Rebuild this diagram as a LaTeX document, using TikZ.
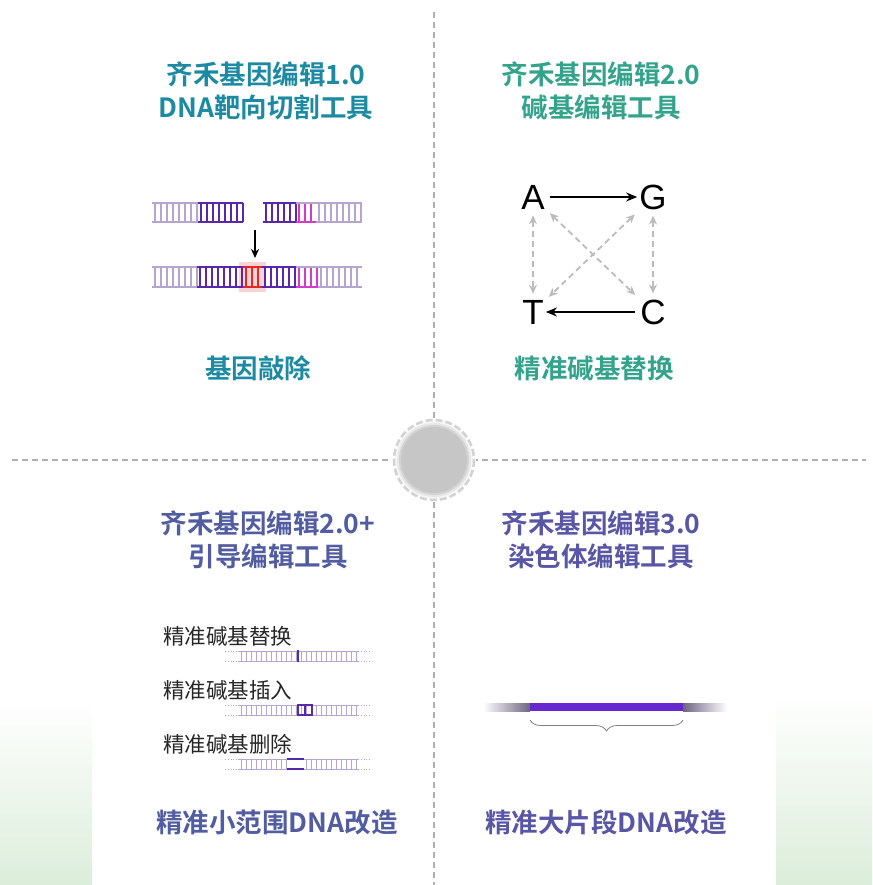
\documentclass[tikz,border=0pt]{standalone}
\usepackage{fontspec}
\setmainfont{Noto Sans CJK SC}[BoldFont={Noto Sans CJK SC Bold}]
\newfontfamily\latinsans{Liberation Sans}
\usepackage{tikz}
\usetikzlibrary{arrows.meta,positioning,calc,decorations.pathreplacing}

\definecolor{cutBlue}{RGB}{28,138,162}
\definecolor{baseGreen}{RGB}{52,163,140}
\definecolor{primeBlue}{RGB}{82,92,160}
\definecolor{chromPurple}{RGB}{88,86,165}
\definecolor{strandLight}{RGB}{180,166,206}
\definecolor{strandDark}{RGB}{88,40,172}
\definecolor{strandMagenta}{RGB}{212,60,200}
\definecolor{strandRed}{RGB}{228,40,40}
\definecolor{barPurple}{RGB}{104,40,208}
\definecolor{fadePurple}{RGB}{110,100,130}
\definecolor{gridGray}{RGB}{176,176,176}
\definecolor{hubGray}{RGB}{198,198,198}
\definecolor{mintGreen}{RGB}{220,237,218}

% one stretch of double strand: rails plus rungs
\newcommand{\dnaseg}[6]{%
  \draw[#5, line width=2pt] (#1,#3) -- (#2,#3) (#1,#4) -- (#2,#4);
  \pgfmathsetmacro\rfirst{#1+3}\pgfmathsetmacro\rsecond{#1+3+#6}
  \foreach \x in {\rfirst,\rsecond,...,#2} \draw[#5, line width=1.4pt] (\x,#3) -- (\x,#4);
}
% thin strand used for the prime editing rows
\newcommand{\primerow}[1]{%
  \draw[strandLight, line width=0.8pt, dotted] (225,#1) -- (238,#1) (225,#1+10) -- (238,#1+10)
    (358,#1) -- (372,#1) (358,#1+10) -- (372,#1+10);
  \draw[strandLight, line width=1pt] (238,#1) -- (358,#1) (238,#1+10) -- (358,#1+10);
}

\begin{document}
\begin{tikzpicture}[x=1pt, y=-1pt,
  title/.style={font=\fontsize{26.5}{33}\selectfont\bfseries, align=center},
  result/.style={font=\fontsize{26.5}{30}\selectfont\bfseries},
  small/.style={font=\fontsize{21.5}{24}\selectfont, text=black!85, anchor=west, inner sep=0pt},
  base/.style={font=\fontsize{35}{40}\selectfont\latinsans, inner sep=2pt},
  swap/.style={gridGray!85, line width=1.8pt, dash pattern=on 6pt off 4pt,
    {Stealth[length=9pt,width=8pt]}-{Stealth[length=9pt,width=8pt]}, shorten <=4pt, shorten >=4pt}]
  \useasboundingbox (0,0) rectangle (872,885);

  % green corners at the bottom
  \shade[top color=white, bottom color=mintGreen] (0,700) rectangle (92,885);
  \shade[top color=white, bottom color=mintGreen] (776,695) rectangle (872,885);

  % cross of dashed lines
  \draw[gridGray, line width=1.5pt, dash pattern=on 6pt off 4pt] (434,12) -- (434,885);
  \draw[gridGray, line width=1.5pt, dash pattern=on 6pt off 4pt] (12,460) -- (866,460);

  % hub in the middle
  \fill[white] (434,460) circle (42);
  \foreach \r/\o in {39/0.15,37/0.3,35/0.6} \fill[hubGray, opacity=\o] (434,460) circle (\r);
  \fill[hubGray] (434,460) circle (33);
  \draw[gray!35, line width=2.5pt, dash pattern=on 7pt off 3pt] (434,460) circle (40);

  % ---- 1.0: DNA cutting
  \node[title, text=cutBlue] (t1) at (266,91) {齐禾基因编辑1.0\\DNA靶向切割工具};
  \dnaseg{152}{198}{203}{222}{strandLight}{6}
  \dnaseg{198}{243}{203}{222}{strandDark}{6}
  \dnaseg{263}{296}{203}{222}{strandDark}{6}
  \dnaseg{296}{316}{203}{222}{strandMagenta}{6}
  \draw[strandLight, line width=2pt] (296,203) -- (316,203);
  \dnaseg{316}{362}{203}{222}{strandLight}{6}
  \coordinate (cutTop) at (255,230);
  \coordinate (cutBot) at (255,258);
  \draw[-{Stealth[length=9pt,width=8pt]}, line width=1.8pt] (cutTop) -- (cutBot);
  \fill[strandRed!20] (239,262) rectangle (266,292);
  \dnaseg{152}{197}{267}{287}{strandLight}{6}
  \dnaseg{197}{243}{267}{287}{strandDark}{6}
  \dnaseg{243}{262}{267}{287}{strandRed}{6}
  \dnaseg{262}{296}{267}{287}{strandDark}{6}
  \dnaseg{296}{318}{267}{287}{strandMagenta}{6}
  \draw[strandLight, line width=2pt] (296,267) -- (318,267);
  \dnaseg{318}{362}{267}{287}{strandLight}{6}
  \node[result, text=cutBlue] (r1) at (258,368) {基因敲除};

  % ---- 2.0: base editing
  \node[title, text=baseGreen] (t2) at (601,91) {齐禾基因编辑2.0\\碱基编辑工具};
  \node[base] (A) at (533,197) {A};
  \node[base] (G) at (653,197) {G};
  \node[base] (T) at (533,312) {T};
  \node[base] (C) at (653,312) {C};
  \draw[-{Stealth[length=11pt,width=9pt]}, line width=1.8pt, shorten <=3pt] (A) -- (G);
  \draw[-{Stealth[length=11pt,width=9pt]}, line width=1.8pt, shorten <=3pt] (C) -- (T);
  \draw[swap] (A) -- (T);
  \draw[swap] (G) -- (C);
  \draw[swap] (A) -- (C);
  \draw[swap] (G) -- (T);
  \node[result, text=baseGreen] (r2) at (594,368) {精准碱基替换};

  % ---- 2.0+: prime editing
  \node[title, text=primeBlue] (t3) at (268,540) {齐禾基因编辑2.0+\\引导编辑工具};
  \node[small] (sub) at (163,636) {精准碱基替换};
  \primerow{651}
  \foreach \x in {241,246,...,356} \draw[strandLight, line width=0.9pt] (\x,651) -- (\x,661);
  \draw[strandDark, line width=2pt] (298,650) -- (298,662);
  \node[small] (ins) at (163,690) {精准碱基插入};
  \primerow{705}
  \foreach \x in {241,246,...,356} \draw[strandLight, line width=0.9pt] (\x,705) -- (\x,715);
  \draw[strandDark, line width=1.4pt] (297,705) -- (313,705) (297,715) -- (313,715);
  \foreach \x in {298,305,312} \draw[strandDark, line width=1.4pt] (\x,705) -- (\x,715);
  \node[small] (del) at (163,744) {精准碱基删除};
  \primerow{759}
  \foreach \x in {241,246,...,286,306,311,...,356} \draw[strandLight, line width=0.9pt] (\x,759) -- (\x,769);
  \draw[strandDark, line width=1.4pt] (287,759) -- (304,759) (287,769) -- (304,769);
  \node[result, text=primeBlue] (r3) at (277,822) {精准小范围DNA改造};

  % ---- 3.0: chromosome editing
  \node[title, text=chromPurple] (t4) at (601,540) {齐禾基因编辑3.0\\染色体编辑工具};
  \shade[left color=white, right color=fadePurple] (483,703) rectangle (530,711);
  \shade[left color=fadePurple, right color=white] (683,703) rectangle (727,711);
  \fill[barPurple] (530,703) rectangle (683,711);
  \coordinate (segL) at (530,720);
  \coordinate (segR) at (683,720);
  \draw[gray, line width=0.8pt, decorate, decoration={brace, amplitude=11pt, mirror}] (segL) -- (segR);
  \node[result, text=chromPurple] (r4) at (606,822) {精准大片段DNA改造};
\end{tikzpicture}
\end{document}
